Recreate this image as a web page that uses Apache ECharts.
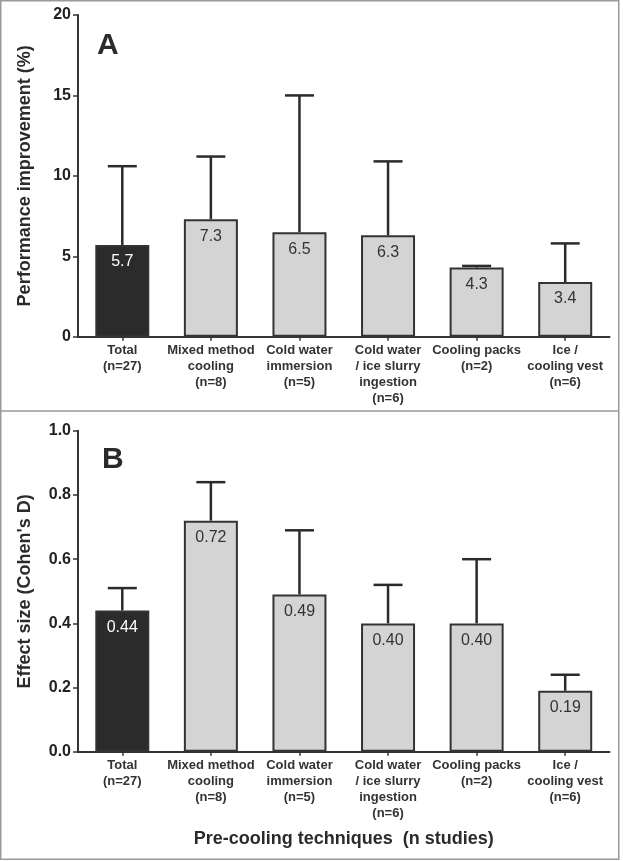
<!DOCTYPE html>
<html>
<head>
<meta charset="utf-8">
<script src="https://cdn.jsdelivr.net/npm/echarts@6/dist/echarts.min.js"></script>
<style>
html,body{margin:0;padding:0;background:#fff;}
#chart{width:623px;height:861px;}
</style>
</head>
<body>
<div id="chart"></div>
<script>
// ---- data ----
const categories = [
  'Total\n(n=27)',
  'Mixed method\ncooling\n(n=8)',
  'Cold water\nimmersion\n(n=5)',
  'Cold water\n/ ice slurry\ningestion\n(n=6)',
  'Cooling packs\n(n=2)',
  'Ice /\ncooling vest\n(n=6)'
];
const perfMean  = [5.7, 7.3, 6.5, 6.3, 4.3, 3.4];
const perfUpper = [10.6, 11.2, 15.0, 10.9, 4.4, 5.8];
const esMean    = [0.44, 0.72, 0.49, 0.40, 0.40, 0.19];
const esUpper   = [0.51, 0.84, 0.69, 0.52, 0.60, 0.24];
const perfAxis = {min: 0, max: 20, interval: 5};
const esAxis   = {min: 0, max: 1, interval: 0.2};
const panelLetters = ['A', 'B'];
const yNames = ['Performance improvement (%)', "Effect size (Cohen's D)"];
const xName = 'Pre-cooling techniques  (n studies)';

// ---- styles ----
const FONT = "'Liberation Sans', Arial, sans-serif";
const DARK = '#2b2b2b';
const LIGHT = '#d4d4d4';
const AX = '#333';

const chart = echarts.init(document.getElementById('chart'), null, {renderer: 'canvas'});

function barData(vals) {
  return vals.map((v, i) => ({
    value: v,
    itemStyle: {color: i === 0 ? DARK : LIGHT, borderColor: AX, borderWidth: 2},
    label: {color: i === 0 ? '#fff' : '#333'}
  }));
}
function errData(mean, upper) {
  return mean.map((m, i) => [i, m, upper[i]]);
}
function errRender(params, api) {
  const i = api.value(0);
  const top = api.coord([i, api.value(1)]);
  const up = api.coord([i, api.value(2)]);
  const hw = 14.5;
  return {
    type: 'group',
    children: [
      {type: 'line', shape: {x1: top[0], y1: top[1], x2: up[0], y2: up[1]},
       style: {stroke: DARK, lineWidth: 2.5}},
      {type: 'line', shape: {x1: up[0] - hw, y1: up[1], x2: up[0] + hw, y2: up[1]},
       style: {stroke: DARK, lineWidth: 2.5}}
    ]
  };
}

const grids = [
  {left: 78, right: 13.5, top: 15, height: 321.7, outerBoundsMode: 'none'},
  {left: 78, right: 13.5, top: 430.8, height: 321, outerBoundsMode: 'none'}
];

function xAxisCfg(gi, withName) {
  return {
    type: 'category', gridIndex: gi, data: categories, boundaryGap: true,
    axisLine: {lineStyle: {color: AX, width: 2}},
    axisTick: {show: true, alignWithLabel: true, length: 4, lineStyle: {color: AX, width: 1.5}},
    axisLabel: {interval: 0, margin: 6, color: '#333', fontFamily: FONT, fontWeight: 'bold',
                fontSize: 13, lineHeight: 15.8},
    name: withName ? xName : '', nameLocation: 'middle', nameGap: 78,
    nameTextStyle: {fontFamily: FONT, fontWeight: 'bold', fontSize: 18, color: '#2b2b2b'}
  };
}
function yAxisCfg(gi, ax, name, dec) {
  return {
    type: 'value', gridIndex: gi, min: ax.min, max: ax.max, interval: ax.interval,
    splitLine: {show: false},
    axisLine: {show: true, lineStyle: {color: AX, width: 2}},
    axisTick: {show: true, length: 5, lineStyle: {color: AX, width: 1.5}},
    axisLabel: {margin: 7, color: '#222', fontFamily: FONT, fontWeight: 'bold', fontSize: 16,
                formatter: v => dec ? v.toFixed(dec) : String(v)},
    name: name, nameLocation: 'middle', nameGap: 44,
    nameTextStyle: {fontFamily: FONT, fontWeight: 'bold', fontSize: 18, color: '#2b2b2b'}
  };
}
function barSeries(gi, vals, dec) {
  return {
    type: 'bar', xAxisIndex: gi, yAxisIndex: gi, data: barData(vals),
    barWidth: 54, z: 3,
    label: {show: true, position: 'insideTop', distance: 9, fontFamily: FONT,
            fontSize: 16, formatter: p => p.value.toFixed(dec)}
  };
}
function errSeries(gi, mean, upper) {
  return {
    type: 'custom', xAxisIndex: gi, yAxisIndex: gi, data: errData(mean, upper),
    renderItem: errRender, z: 2, silent: true,
    encode: {x: 0, y: [1, 2]}
  };
}

const option = {
  animation: false,
  backgroundColor: '#fff',
  grid: grids,
  xAxis: [xAxisCfg(0, false), xAxisCfg(1, true)],
  yAxis: [yAxisCfg(0, perfAxis, yNames[0], 0), yAxisCfg(1, esAxis, yNames[1], 1)],
  series: [
    errSeries(0, perfMean, perfUpper),
    barSeries(0, perfMean, 1),
    errSeries(1, esMean, esUpper),
    barSeries(1, esMean, 2)
  ],
  title: [
    {text: panelLetters[0], left: 97, top: 31, padding: 0,
     textStyle: {fontFamily: FONT, fontWeight: 'bold', fontSize: 30, color: '#2b2b2b'}},
    {text: panelLetters[1], left: 102, top: 445, padding: 0,
     textStyle: {fontFamily: FONT, fontWeight: 'bold', fontSize: 30, color: '#2b2b2b'}}
  ],
  graphic: [
    {type: 'rect', shape: {x: 0.75, y: 0.75, width: 618, height: 858.5},
     style: {fill: 'none', stroke: '#9a9a9a', lineWidth: 1.5}, silent: true},
    {type: 'line', shape: {x1: 0.75, y1: 411, x2: 618.75, y2: 411},
     style: {stroke: '#9a9a9a', lineWidth: 1.5}, silent: true}
  ]
};
chart.setOption(option);
</script>
</body>
</html>
